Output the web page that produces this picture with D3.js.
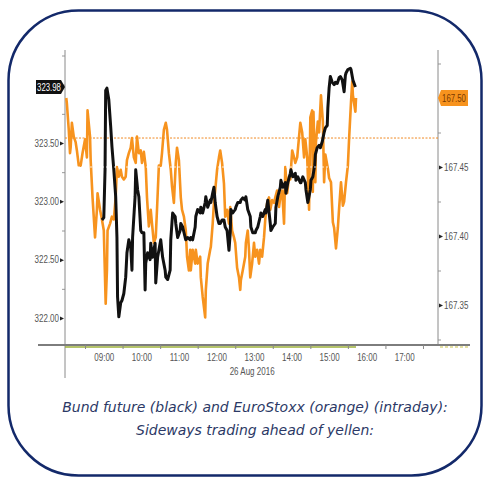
<!DOCTYPE html>
<html>
<head>
<meta charset="utf-8">
<script src="https://cdn.jsdelivr.net/npm/d3@7"></script>
<style>
  html, body { margin: 0; padding: 0; background: #fff; }
  svg { display: block; }
  .tick-label { font-family: "Liberation Sans", Arial, sans-serif; font-size: 10px; fill: #555; }
  .caption { font-family: "DejaVu Sans", sans-serif; font-style: italic; font-size: 14px; fill: #2c3966; }
</style>
</head>
<body>
<svg id="chart" width="483" height="478"></svg>
<script>
// Intraday quotes, 26 Aug 2016: [time, price]
const bund = [
  ["08:57",322.84],["09:00",322.86],["09:02",323.27],["09:03",323.95],["09:05",323.97],["09:08",323.87],
  ["09:11",323.64],["09:13",323.47],["09:16",323.27],["09:19",323.04],["09:21",322.69],["09:22",322.18],
  ["09:24",322.01],["09:27",322.13],["09:29",322.15],["09:32",322.21],["09:35",322.35],["09:37",322.56],
  ["09:40",322.67],["09:43",322.61],["09:45",322.41],["09:46",322.69],["09:50",323.04],["09:51",323.27],
  ["09:53",323.16],["09:54",323.10],["09:56",323.04],["09:59",322.75],["10:01",322.73],["10:04",322.73],
  ["10:06",322.24],["10:07",322.47],["10:10",322.56],["10:14",322.50],["10:15",322.64],["10:18",322.52],
  ["10:22",322.64],["10:23",322.30],["10:26",322.52],["10:30",322.64],["10:31",322.67],["10:34",322.52],
  ["10:38",322.41],["10:39",322.35],["10:42",322.33],["10:46",322.41],["10:47",322.67],["10:50",322.90],
  ["10:54",322.87],["10:55",322.81],["10:58",322.69],["11:02",322.75],["11:03",322.81],["11:06",322.78],
  ["11:10",322.69],["11:11",322.67],["11:14",322.69],["11:18",322.67],["11:19",322.69],["11:22",322.67],
  ["11:26",322.78],["11:27",322.87],["11:30",322.93],["11:34",322.90],["11:35",322.95],["11:38",322.90],
  ["11:42",322.99],["11:43",323.04],["11:46",322.95],["11:50",323.01],["11:51",322.99],["11:54",323.07],
  ["11:56",323.12],["11:58",322.99],["12:01",322.87],["12:04",322.81],["12:06",322.81],["12:09",322.84],
  ["12:12",322.84],["12:14",322.78],["12:17",322.75],["12:20",322.58],["12:22",322.73],["12:23",322.93],
  ["12:26",322.90],["12:30",322.93],["12:31",322.95],["12:34",322.99],["12:38",322.99],["12:39",323.01],
  ["12:42",323.03],["12:46",323.01],["12:47",323.04],["12:50",322.93],["12:54",322.87],["12:55",322.78],
  ["12:58",322.73],["13:02",322.73],["13:03",322.75],["13:06",322.78],["13:10",322.87],["13:11",322.90],
  ["13:14",322.87],["13:18",322.93],["13:19",322.90],["13:22",323.01],["13:26",322.81],["13:27",322.75],
  ["13:30",322.78],["13:34",322.81],["13:35",322.95],["13:38",323.04],["13:42",323.12],["13:43",323.18],
  ["13:46",323.12],["13:50",323.16],["13:51",323.07],["13:54",323.16],["13:58",323.24],["13:59",323.27],
  ["14:02",323.21],["14:06",323.24],["14:07",323.18],["14:10",323.21],["14:14",323.16],["14:15",323.16],
  ["14:18",323.21],["14:22",323.16],["14:23",323.10],["14:26",322.99],["14:30",323.10],["14:31",323.18],
  ["14:34",323.21],["14:37",323.31],["14:38",323.40],["14:41",323.46],["14:44",323.48],["14:46",323.46],
  ["14:49",323.51],["14:52",323.59],["14:54",323.63],["14:57",323.65],["14:58",323.80],["15:00",323.97],
  ["15:02",324.07],["15:05",324.02],["15:08",324.00],["15:10",324.02],["15:13",324.01],["15:16",324.06],
  ["15:18",324.07],["15:21",324.04],["15:24",323.94],["15:26",324.08],["15:27",324.10],["15:30",324.13],
  ["15:34",324.14],["15:35",324.13],["15:38",324.04],["15:40",324.01],["15:42",323.98]
];

const stoxx = [
  ["08:00",167.500],["08:01",167.496],["08:04",167.477],["08:06",167.460],["08:07",167.464],["08:09",167.482],
  ["08:12",167.472],["08:15",167.468],["08:17",167.462],["08:20",167.451],["08:23",167.451],["08:26",167.460],
  ["08:30",167.470],["08:33",167.457],["08:34",167.491],["08:38",167.472],["08:39",167.455],["08:42",167.428],
  ["08:46",167.399],["08:49",167.419],["08:50",167.431],["08:54",167.419],["08:57",167.412],["09:00",167.404],
  ["09:03",167.351],["09:05",167.375],["09:06",167.404],["09:10",167.409],["09:13",167.414],["09:16",167.412],
  ["09:19",167.428],["09:21",167.450],["09:24",167.443],["09:27",167.448],["09:29",167.443],["09:32",167.441],
  ["09:35",167.443],["09:37",167.455],["09:40",167.460],["09:43",167.464],["09:45",167.471],["09:48",167.457],
  ["09:51",167.453],["09:53",167.472],["09:56",167.460],["09:59",167.462],["10:01",167.453],["10:04",167.461],
  ["10:07",167.450],["10:09",167.428],["10:12",167.407],["10:15",167.419],["10:17",167.409],["10:20",167.395],
  ["10:23",167.399],["10:25",167.419],["10:28",167.451],["10:31",167.451],["10:33",167.460],["10:36",167.477],
  ["10:39",167.482],["10:41",167.477],["10:44",167.460],["10:47",167.448],["10:49",167.436],["10:52",167.424],
  ["10:55",167.453],["10:57",167.464],["11:00",167.455],["11:03",167.428],["11:05",167.419],["11:08",167.414],
  ["11:11",167.404],["11:13",167.385],["11:16",167.375],["11:18",167.390],["11:19",167.375],["11:22",167.390],
  ["11:26",167.380],["11:27",167.390],["11:30",167.380],["11:34",167.385],["11:35",167.370],["11:38",167.356],
  ["11:42",167.341],["11:43",167.361],["11:46",167.380],["11:50",167.390],["11:51",167.392],["11:54",167.409],
  ["11:56",167.424],["11:58",167.433],["12:01",167.448],["12:04",167.457],["12:06",167.462],["12:09",167.453],
  ["12:12",167.438],["12:14",167.414],["12:17",167.419],["12:20",167.409],["12:22",167.421],["12:25",167.404],
  ["12:28",167.399],["12:30",167.395],["12:33",167.377],["12:36",167.370],["12:38",167.361],["12:39",167.368],
  ["12:42",167.375],["12:46",167.385],["12:47",167.395],["12:50",167.404],["12:52",167.390],["12:54",167.370],
  ["12:57",167.380],["13:00",167.395],["13:02",167.385],["13:05",167.390],["13:08",167.380],["13:10",167.390],
  ["13:13",167.385],["13:16",167.399],["13:18",167.412],["13:21",167.424],["13:24",167.428],["13:26",167.419],
  ["13:29",167.426],["13:32",167.424],["13:34",167.428],["13:37",167.433],["13:40",167.421],["13:42",167.428],
  ["13:45",167.433],["13:48",167.409],["13:50",167.450],["13:53",167.431],["13:56",167.443],["13:58",167.441],
  ["14:01",167.462],["14:04",167.457],["14:06",167.453],["14:09",167.457],["14:12",167.472],["14:14",167.482],
  ["14:17",167.475],["14:20",167.457],["14:22",167.470],["14:25",167.457],["14:28",167.419],["14:30",167.486],
  ["14:33",167.491],["14:34",167.432],["14:35",167.490],["14:38",167.439],["14:39",167.468],["14:42",167.483],
  ["14:44",167.475],["14:47",167.502],["14:50",167.483],["14:52",167.439],["14:54",167.459],["14:58",167.449],
  ["15:00",167.442],["15:03",167.439],["15:06",167.410],["15:08",167.406],["15:11",167.391],["15:14",167.406],
  ["15:16",167.420],["15:19",167.439],["15:22",167.422],["15:24",167.425],["15:27",167.439],["15:30",167.451],
  ["15:32",167.471],["15:35",167.497],["15:37",167.512],["15:38",167.502],["15:42",167.490],["15:43",167.500]
];

const hourTicks = ["09:00","10:00","11:00","12:00","13:00","14:00","15:00","16:00","17:00"];
const halfHourTicks = ["08:30","09:30","10:30","11:30","12:30","13:30","14:30","15:30","16:30","17:30"];
const bundTicks = [322.00, 322.50, 323.00, 323.50];
const bundMinorTicks = [322.25, 322.75, 323.25, 323.75, 324.00, 324.25];
const stoxxTicks = [167.35, 167.40, 167.45];
const stoxxMinorTicks = [167.325, 167.375, 167.425, 167.475, 167.525];
const stoxxPrevClose = 167.471;
const gridLevel = 167.45;
const bundLast = 323.98;
const stoxxLast = 167.50;
const dateLabel = "26 Aug 2016";
const captionLines = [
  "Bund future (black) and EuroStoxx (orange) (intraday):",
  "Sideways trading ahead of yellen:"
];

const day = "2016-08-26";
const parseT = d3.timeParse("%Y-%m-%d %H:%M");
const t = s => parseT(day + " " + s);

// Squeeze label glyphs horizontally to get a condensed look
function condense(sel, factor) {
  sel.each(function () {
    const w = this.getComputedTextLength();
    d3.select(this).attr("textLength", w * factor).attr("lengthAdjust", "spacingAndGlyphs");
  });
}

const svg = d3.select("#chart");

// Rounded frame
svg.append("rect")
  .attr("x", 8.5).attr("y", 10.5)
  .attr("width", 473).attr("height", 465)
  .attr("rx", 70).attr("ry", 70)
  .attr("fill", "none").attr("stroke", "#13296a").attr("stroke-width", 2.5);

const plotLeft = 65, plotRight = 438, plotTop = 50, plotBottom = 345;

const x = d3.scaleTime()
  .domain([t("07:58"), t("17:54")])
  .range([plotLeft, plotRight]);

const yL = d3.scaleLinear().domain([322.0, 323.5]).range([318, 143]);
const yR = d3.scaleLinear().domain([167.35, 167.50]).range([305, 98]);

function styleLabels(g) {
  g.selectAll(".tick text")
    .attr("class", "tick-label").attr("fill", null).attr("font-size", null).attr("font-family", null)
    .call(condense, 0.8);
}

// Left axis (Bund)
const gL = svg.append("g").attr("transform", `translate(${plotLeft},0)`);
gL.call(d3.axisLeft(yL).tickValues(bundMinorTicks).tickSize(3).tickFormat(""));
gL.select(".domain").remove();
gL.selectAll(".tick line").attr("stroke", "#999");
const gL2 = svg.append("g").attr("transform", `translate(${plotLeft},0)`);
gL2.call(d3.axisLeft(yL).tickValues(bundTicks).tickSize(0).tickPadding(6).tickFormat(d3.format(".2f")));
gL2.select(".domain").remove();
styleLabels(gL2);
gL2.selectAll(".tick").append("path").attr("d", "M-5,-2L-1,0L-5,2Z").attr("fill", "#222");
svg.append("line")
  .attr("x1", plotLeft).attr("x2", plotLeft).attr("y1", plotTop).attr("y2", 378)
  .attr("stroke", "#8a8a8a").attr("stroke-width", 1);

// Right axis (EuroStoxx)
const gR = svg.append("g").attr("transform", `translate(${plotRight},0)`);
gR.call(d3.axisRight(yR).tickValues(stoxxMinorTicks).tickSize(3).tickFormat(""));
gR.select(".domain").remove();
gR.selectAll(".tick line").attr("stroke", "#999");
const gR2 = svg.append("g").attr("transform", `translate(${plotRight},0)`);
gR2.call(d3.axisRight(yR).tickValues(stoxxTicks).tickSize(0).tickPadding(6).tickFormat(d3.format(".2f")));
gR2.select(".domain").remove();
styleLabels(gR2);
gR2.selectAll(".tick").append("path").attr("d", "M1,-2L5,0L1,2Z").attr("fill", "#222");
svg.append("line")
  .attr("x1", plotRight).attr("x2", plotRight).attr("y1", plotTop).attr("y2", plotBottom)
  .attr("stroke", "#8a8a8a").attr("stroke-width", 1);

// Bottom time axis
svg.append("line")
  .attr("x1", 38).attr("x2", 470).attr("y1", plotBottom).attr("y2", plotBottom)
  .attr("stroke", "#7d7d7d").attr("stroke-width", 2);
svg.append("line")
  .attr("x1", plotLeft).attr("x2", x(t("15:43"))).attr("y1", plotBottom + 2).attr("y2", plotBottom + 2)
  .attr("stroke", "#9db03a").attr("stroke-width", 1.5);
svg.append("line")
  .attr("x1", plotRight + 2).attr("x2", 470).attr("y1", plotBottom + 2).attr("y2", plotBottom + 2)
  .attr("stroke", "#c9c24a").attr("stroke-width", 1.2).attr("stroke-dasharray", "3,2");

const gB = svg.append("g").attr("transform", `translate(0,${plotBottom})`);
gB.call(d3.axisBottom(x).tickValues(halfHourTicks.map(t)).tickSize(4).tickFormat(""));
gB.select(".domain").remove();
gB.selectAll(".tick line").attr("stroke", "#888");
const gB2 = svg.append("g").attr("transform", `translate(0,${plotBottom})`);
gB2.call(d3.axisBottom(x).tickValues(hourTicks.map(t)).tickSize(0).tickPadding(9).tickFormat(d3.timeFormat("%H:%M")));
gB2.select(".domain").remove();
styleLabels(gB2);

svg.append("text")
  .attr("class", "tick-label")
  .attr("x", x(t("12:57"))).attr("y", 375)
  .attr("text-anchor", "middle")
  .text(dateLabel)
  .call(condense, 0.8);

// Previous-close reference line (EuroStoxx)
svg.append("line")
  .attr("x1", plotLeft).attr("x2", plotRight)
  .attr("y1", yR(stoxxPrevClose)).attr("y2", yR(stoxxPrevClose))
  .attr("stroke", "#f08a24").attr("stroke-width", 1).attr("stroke-dasharray", "2,1.5");

// Series
const lineL = d3.line().x(d => x(t(d[0]))).y(d => yL(d[1]));
const lineR = d3.line().x(d => x(t(d[0]))).y(d => yR(d[1]));

svg.append("path").datum(stoxx)
  .attr("d", lineR).attr("fill", "none")
  .attr("stroke", "#f7931e").attr("stroke-width", 2.6).attr("stroke-linejoin", "round");

svg.append("path").datum(bund)
  .attr("d", lineL).attr("fill", "none")
  .attr("stroke", "#111").attr("stroke-width", 3).attr("stroke-linejoin", "round");

// Faint grid level drawn over the series
svg.append("line")
  .attr("x1", plotLeft + 1).attr("x2", plotRight - 1)
  .attr("y1", yR(gridLevel)).attr("y2", yR(gridLevel))
  .attr("stroke", "#fff").attr("stroke-width", 1).attr("stroke-dasharray", "2,2").attr("opacity", 0.8);

// Last-price badges
const yb = yL(bundLast);
svg.append("path")
  .attr("d", `M36,${yb - 7}H61L65,${yb}L61,${yb + 7}H36Z`)
  .attr("fill", "#111");
svg.append("text")
  .attr("class", "tick-label")
  .attr("x", 49).attr("y", yb + 3.5)
  .attr("text-anchor", "middle")
  .style("fill", "#fff")
  .text(d3.format(".2f")(bundLast))
  .call(condense, 0.78);

const ys = yR(stoxxLast);
svg.append("path")
  .attr("d", `M${plotRight},${ys}L${plotRight + 3},${ys - 8}H468V${ys + 8}H${plotRight + 3}Z`)
  .attr("fill", "#f7931e");
svg.append("text")
  .attr("class", "tick-label")
  .attr("x", 454).attr("y", ys + 3.5)
  .attr("text-anchor", "middle")
  .style("fill", "#7a3a00")
  .text(d3.format(".2f")(stoxxLast))
  .call(condense, 0.78);

// Caption
svg.selectAll("text.caption").data(captionLines).join("text")
  .attr("class", "caption")
  .attr("x", 255)
  .attr("y", (d, i) => 412 + i * 23)
  .attr("text-anchor", "middle")
  .text(d => d);
</script>
</body>
</html>
